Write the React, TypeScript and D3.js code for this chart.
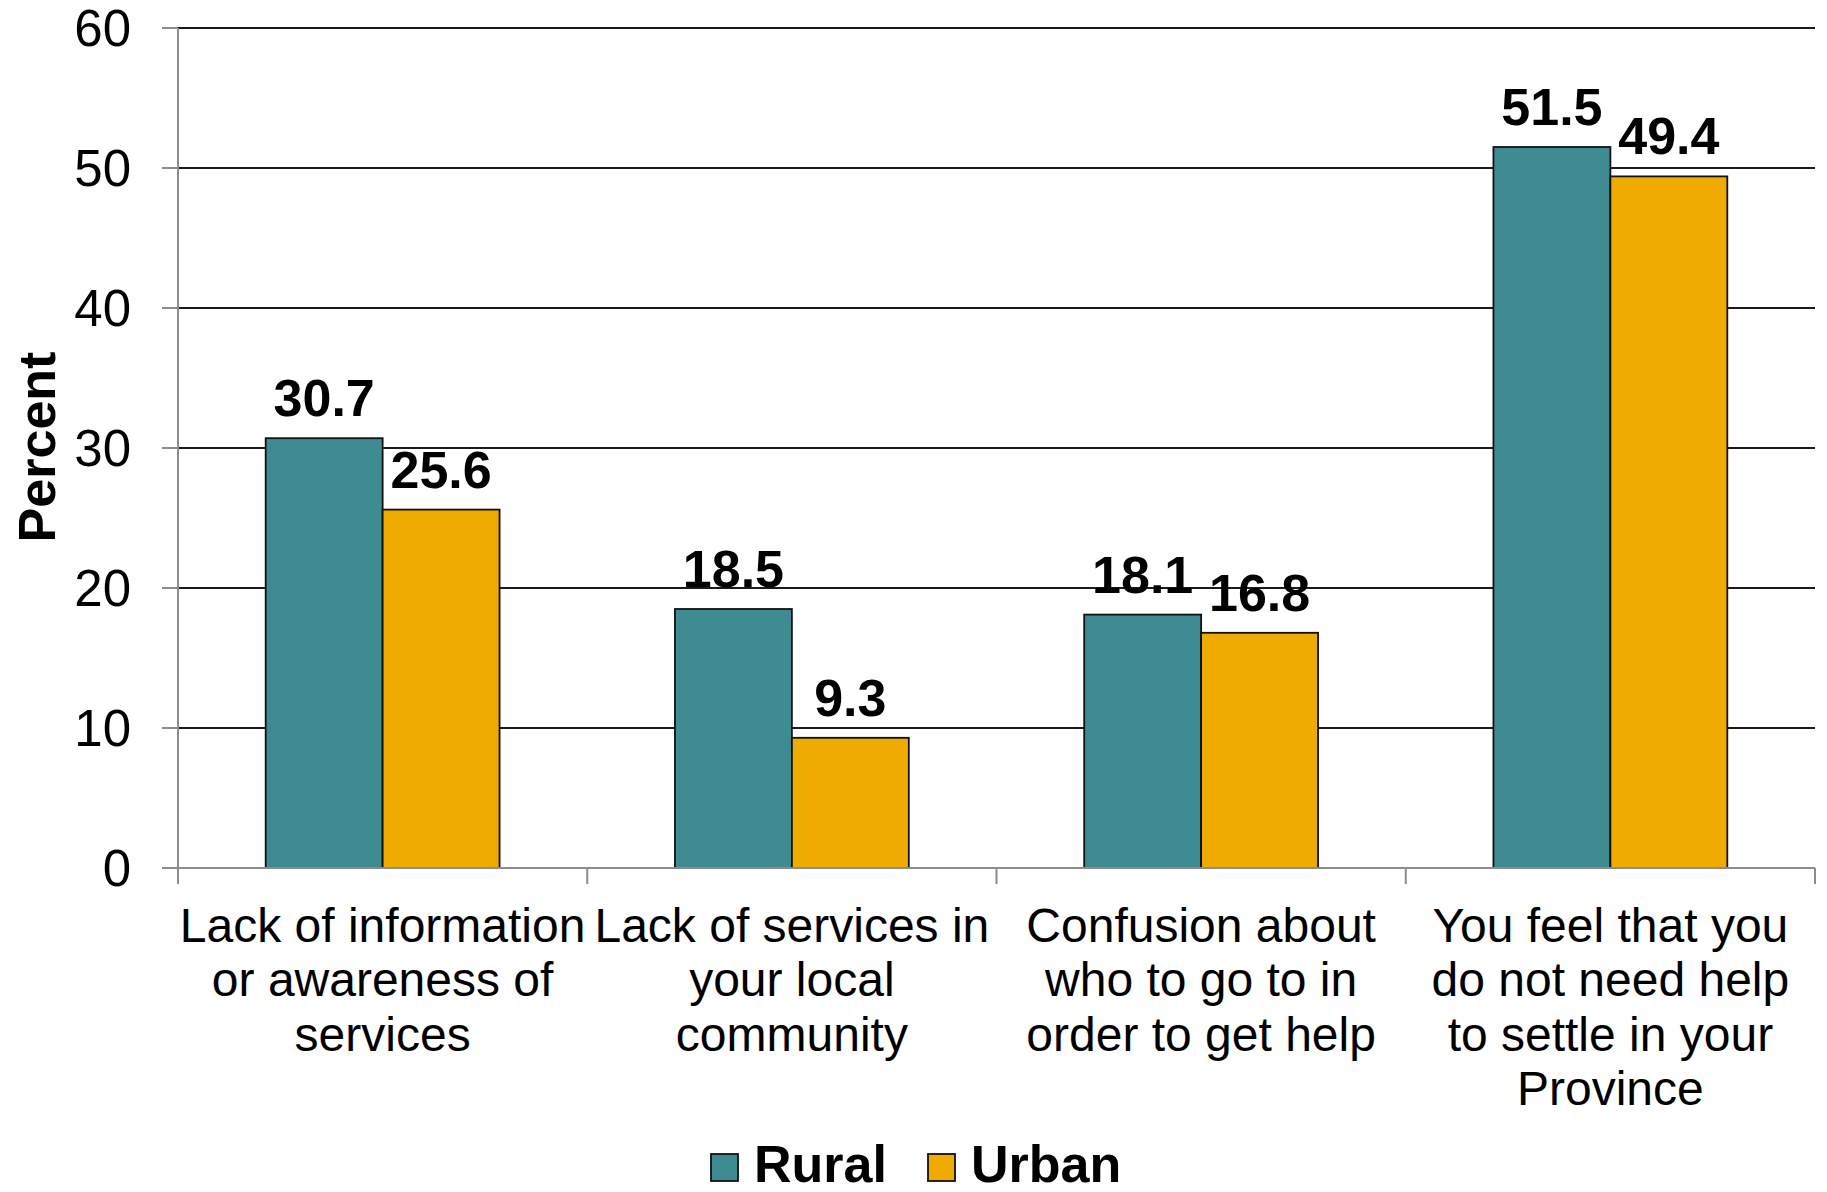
import React from "react";
import * as d3 from "d3";

const categories: string[][] = [
  ["Lack of information", "or awareness of", "services"],
  ["Lack of services in", "your local", "community"],
  ["Confusion about", "who to go to in", "order to get help"],
  ["You feel that you", "do not need help", "to settle in your", "Province"],
];
const seriesNames = ["Rural", "Urban"];
const rural = [30.7, 18.5, 18.1, 51.5];
const urban = [25.6, 9.3, 16.8, 49.4];
const yTicks = [0, 10, 20, 30, 40, 50, 60];
const colors = ["#3F8B92", "#F0AB00"];

const W = 1827;
const H = 1192;
const FONT = "'Liberation Sans', Arial, Helvetica, sans-serif";

export default function App() {
  const left = 178;
  const right = 1815;
  const top = 28;
  const bottom = 868;
  const idx = categories.map((_, i) => String(i));
  const x = d3.scaleBand<string>().domain(idx).range([left, right]).paddingInner(0).paddingOuter(0);
  const xs = d3.scaleBand<string>().domain(seriesNames).range([0, x.bandwidth()]).paddingInner(0).paddingOuter(0.75);
  const y = d3.scaleLinear().domain([0, 60]).range([bottom, top]);
  const series = [rural, urban];
  const axisColor = "#8c8c8c";

  return (
    <svg width={W} height={H} style={{ position: "absolute", left: 0, top: 0, display: "block", background: "#fff" }}>
      {/* gridlines */}
      {yTicks.filter((t) => t > 0).map((t) => (
        <line key={"g" + t} x1={left} x2={right} y1={y(t)} y2={y(t)} stroke="#1a1a1a" strokeWidth={2} />
      ))}
      {/* y ticks and labels */}
      {yTicks.map((t) => (
        <g key={"yt" + t}>
          <line x1={left - 16} x2={left} y1={y(t)} y2={y(t)} stroke={axisColor} strokeWidth={2} />
          <text x={131} y={y(t)} dy="0.36em" textAnchor="end" fontFamily={FONT} fontSize={51} fill="#000">
            {t}
          </text>
        </g>
      ))}
      {/* bars */}
      {series.map((vals, si) =>
        vals.map((v, ci) => {
          const bx = (x(String(ci)) as number) + (xs(seriesNames[si]) as number);
          return (
            <rect
              key={`b${si}-${ci}`}
              x={bx}
              y={y(v)}
              width={xs.bandwidth()}
              height={y(0) - y(v)}
              fill={colors[si]}
              stroke="#111"
              strokeWidth={1.8}
            />
          );
        })
      )}
      {/* axes */}
      <line x1={left} x2={left} y1={top} y2={bottom + 16} stroke={axisColor} strokeWidth={2} />
      <line x1={left - 16} x2={right} y1={bottom} y2={bottom} stroke={axisColor} strokeWidth={2} />
      {idx.concat([String(idx.length)]).map((k, i) => {
        const xx = i < idx.length ? (x(k) as number) : right;
        return <line key={"xt" + i} x1={xx} x2={xx} y1={bottom} y2={bottom + 16} stroke={axisColor} strokeWidth={2} />;
      })}
      {/* data labels */}
      {series.map((vals, si) =>
        vals.map((v, ci) => {
          const cx = (x(String(ci)) as number) + (xs(seriesNames[si]) as number) + xs.bandwidth() / 2;
          return (
            <text
              key={`l${si}-${ci}`}
              x={cx}
              y={y(v) - 22}
              textAnchor="middle"
              fontFamily={FONT}
              fontWeight="bold"
              fontSize={52}
              fill="#000"
            >
              {v.toFixed(1)}
            </text>
          );
        })
      )}
      {/* category labels */}
      {categories.map((lines, ci) => {
        const cx = (x(String(ci)) as number) + x.bandwidth() / 2;
        return (
          <text key={"c" + ci} textAnchor="middle" fontFamily={FONT} fontSize={48} fill="#000">
            {lines.map((ln, li) => (
              <tspan key={li} x={cx} y={942 + li * 54.3}>
                {ln}
              </tspan>
            ))}
          </text>
        );
      })}
      {/* y axis title */}
      <text
        transform={`translate(55, 447) rotate(-90)`}
        textAnchor="middle"
        fontFamily={FONT}
        fontWeight="bold"
        fontSize={52}
        fill="#000"
      >
        Percent
      </text>
      {/* legend */}
      {seriesNames.map((name, i) => {
        const lx = [711, 928][i];
        return (
          <g key={"lg" + i}>
            <rect x={lx} y={1154} width={27} height={27} fill={colors[i]} stroke="#111" strokeWidth={1.8} />
            <text x={lx + 43} y={1182} fontFamily={FONT} fontWeight="bold" fontSize={52} fill="#000">
              {name}
            </text>
          </g>
        );
      })}
    </svg>
  );
}
